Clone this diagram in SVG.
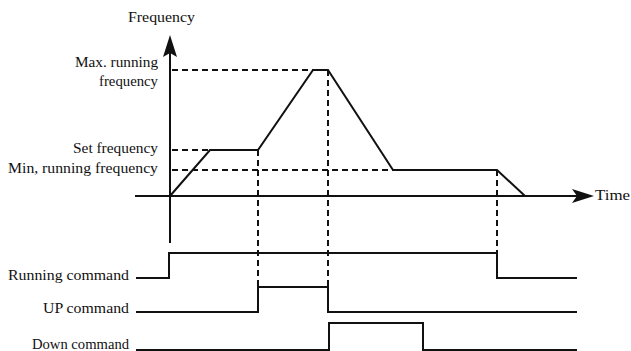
<svg xmlns="http://www.w3.org/2000/svg" width="631" height="351" viewBox="0 0 631 351">
<style>
  text { font-family: 'Liberation Serif', 'DejaVu Serif', serif; font-size: 14.5px; fill: #111; }
  .s { fill: none; stroke: #111; stroke-width: 2; stroke-linejoin: miter; }
  .d { fill: none; stroke: #111; stroke-width: 2; stroke-dasharray: 6 4; }
  .ah { fill: #111; stroke: none; }
</style>
<rect width="631" height="351" fill="#fff"/>
<g id="axes">
  <line class="s" x1="170" y1="48" x2="170" y2="243"/>
  <path class="ah" d="M170,35 L177,57 L170,53 L163,57 Z"/>
  <line class="s" x1="135" y1="196" x2="578" y2="196"/>
  <path class="ah" d="M594,196 L572,189 L577,196 L572,203 Z"/>
  <text x="128" y="22" textLength="67" lengthAdjust="spacingAndGlyphs">Frequency</text>
  <text x="595" y="200" textLength="35" lengthAdjust="spacingAndGlyphs">Time</text>
</g>
<g id="levels" text-anchor="end">
  <text x="158" y="67" textLength="83" lengthAdjust="spacingAndGlyphs">Max. running</text>
  <text x="158" y="86" textLength="59" lengthAdjust="spacingAndGlyphs">frequency</text>
  <text x="158" y="153" textLength="85" lengthAdjust="spacingAndGlyphs">Set frequency</text>
  <text x="158" y="173" textLength="150" lengthAdjust="spacingAndGlyphs">Min, running frequency</text>
</g>
<g id="signals" text-anchor="end">
  <text x="129" y="280" textLength="121" lengthAdjust="spacingAndGlyphs">Running command</text>
  <text x="129" y="313" textLength="86" lengthAdjust="spacingAndGlyphs">UP command</text>
  <text x="129" y="349" textLength="97" lengthAdjust="spacingAndGlyphs">Down command</text>
</g>
<g id="connectors">
  <line class="d" x1="172" y1="70" x2="313" y2="70"/>
  <line class="d" x1="172" y1="150" x2="210" y2="150"/>
  <line class="d" x1="172" y1="170" x2="393" y2="170"/>
  <line class="d" x1="258" y1="150" x2="258" y2="287"/>
  <line class="d" x1="328" y1="70" x2="328" y2="287"/>
  <line class="d" x1="497" y1="170" x2="497" y2="253"/>
  <path class="s" d="M170,196 L210,150 L258,150 L313,70 L328,70 L393,170 L497,170 L525,196"/>
  <path class="s" d="M136,278 L169,278 L169,253 L497,253 L497,278 L577,278"/>
  <path class="s" d="M136,312 L258,312 L258,287 L328,287 L328,312 L577,312"/>
  <path class="s" d="M136,350 L329,350 L329,323 L423,323 L423,350 L577,350"/>
</g>
</svg>
